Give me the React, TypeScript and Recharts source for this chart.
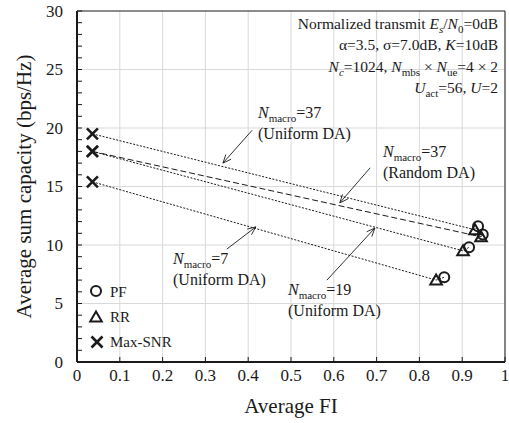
import React from 'react';
import {
  ScatterChart,
  Scatter,
  XAxis,
  YAxis,
  CartesianGrid,
  ReferenceLine,
} from 'recharts';

// average FI / average sum capacity per setup
// order: N=37 uniform DA, N=37 random DA, N=19 uniform DA, N=7 uniform DA
const setups = ['N37 Uniform', 'N37 Random', 'N19 Uniform', 'N7 Uniform'];
const maxSnrFI = [0.036, 0.036, 0.036, 0.036];
const maxSnrCap = [19.5, 18.0, 18.0, 15.4];
const rrFI = [0.93, 0.944, 0.902, 0.839];
const rrCap = [11.3, 10.7, 9.5, 7.0];
const pfFI = [0.937, 0.948, 0.916, 0.858];
const pfCap = [11.6, 10.9, 9.8, 7.25];
const setupDash = ['2 1.5', '6 3', '2 1.5', '2 1.5'];

const xTicks = [0, 0.1, 0.2, 0.3, 0.4, 0.5, 0.6, 0.7, 0.8, 0.9, 1];
const yTicks = Array.from({ length: 31 }, (_, i) => i);
const yGrid = [5, 10, 15, 20, 25];

const FONT = "'Liberation Serif', 'Times New Roman', serif";
const INK = '#1a1a1a';

const toPts = (xs: number[], ys: number[]) => xs.map((x, i) => ({ x, y: ys[i] }));
const pfData = toPts(pfFI, pfCap);
const rrData = toPts(rrFI, rrCap);
const maxSnrData = toPts(maxSnrFI, maxSnrCap);
const lineData = setups.map((_, i) => [
  { x: maxSnrFI[i], y: maxSnrCap[i] },
  { x: rrFI[i], y: rrCap[i] },
  { x: pfFI[i], y: pfCap[i] },
]);

// arrows of the annotations, in data units
const arrows = [
  [{ x: 0.409, y: 19.8 }, { x: 0.341, y: 17.0 }],
  [{ x: 0.685, y: 16.6 }, { x: 0.614, y: 13.6 }],
  [{ x: 0.35, y: 9.65 }, { x: 0.418, y: 11.55 }],
  [{ x: 0.584, y: 7.0 }, { x: 0.696, y: 11.45 }],
];

const Circle = ({ cx, cy }: any) => (
  <circle cx={cx} cy={cy} r={5} fill="none" stroke={INK} strokeWidth={2} />
);
const Triangle = ({ cx, cy }: any) => (
  <polygon
    points={`${cx},${cy - 5.5} ${cx + 5.8},${cy + 4.5} ${cx - 5.8},${cy + 4.5}`}
    fill="none"
    stroke={INK}
    strokeWidth={2}
  />
);
const Cross = ({ cx, cy }: any) => (
  <g stroke={INK} strokeWidth={2.6}>
    <line x1={cx - 5.5} y1={cy - 5.5} x2={cx + 5.5} y2={cy + 5.5} />
    <line x1={cx - 5.5} y1={cy + 5.5} x2={cx + 5.5} y2={cy - 5.5} />
  </g>
);
const NoDot = () => <g />;

const Arrow = (props: any) => {
  const { x1, y1, x2, y2 } = props;
  const a = Math.atan2(y2 - y1, x2 - x1);
  const L = 9;
  const w = 0.4;
  const p1 = `${x2 - L * Math.cos(a - w)},${y2 - L * Math.sin(a - w)}`;
  const p2 = `${x2 - L * Math.cos(a + w)},${y2 - L * Math.sin(a + w)}`;
  return (
    <g stroke={INK} strokeWidth={0.9} fill="none">
      <line x1={x1} y1={y1} x2={x2} y2={y2} />
      <polyline points={`${p1} ${x2},${y2} ${p2}`} />
    </g>
  );
};

const XTick = (props: any) => {
  const { x, y, payload } = props;
  return (
    <text x={x} y={y} textAnchor="middle" dy="0.35em" fontFamily={FONT} fontSize={17} fill={INK}>
      {String(payload.value)}
    </text>
  );
};

// only every 5th y tick gets a label, the rest are minor ticks
const YTick = (props: any) => {
  const { x, y, payload } = props;
  if (payload.value % 5 !== 0) return <g />;
  return (
    <text x={x} y={y} textAnchor="end" dy="0.35em" fontFamily={FONT} fontSize={17} fill={INK}>
      {String(payload.value)}
    </text>
  );
};

const Nmacro = ({ x, y, v, sub }: { x: number; y: number; v: string; sub: string }) => (
  <text x={x} y={y} fontSize={16} fill={INK} fontFamily={FONT}>
    <tspan fontStyle="italic">N</tspan>
    <tspan fontSize={11} dy={3.5}>{sub}</tspan>
    <tspan dy={-3.5}>{v}</tspan>
  </text>
);

const Plain = ({ x, y, size = 16, children }: any) => (
  <text x={x} y={y} fontSize={size} fill={INK} fontFamily={FONT}>
    {children}
  </text>
);

const Overlay = () => (
  <svg width={509} height={423} style={{ position: 'absolute', left: 0, top: 0, pointerEvents: 'none' }}>
    {/* parameters */}
    <g fontSize={15.5} fill={INK} textAnchor="end" fontFamily={FONT}>
      <text x={498} y={29}>
        Normalized transmit <tspan fontStyle="italic">E</tspan>
        <tspan fontSize={11} dy={4} fontStyle="italic">s</tspan>
        <tspan dy={-4}>/</tspan>
        <tspan fontStyle="italic">N</tspan>
        <tspan fontSize={11} dy={4}>0</tspan>
        <tspan dy={-4}>=0dB</tspan>
      </text>
      <text x={498} y={50}>
        α=3.5, σ=7.0dB, <tspan fontStyle="italic">K</tspan>=10dB
      </text>
      <text x={498} y={72}>
        <tspan fontStyle="italic">N</tspan>
        <tspan fontSize={11} dy={4} fontStyle="italic">c</tspan>
        <tspan dy={-4}>=1024, </tspan>
        <tspan fontStyle="italic">N</tspan>
        <tspan fontSize={11} dy={4}>mbs</tspan>
        <tspan dy={-4}> × </tspan>
        <tspan fontStyle="italic">N</tspan>
        <tspan fontSize={11} dy={4}>ue</tspan>
        <tspan dy={-4}>=4 × 2</tspan>
      </text>
      <text x={498} y={93}>
        <tspan fontStyle="italic">U</tspan>
        <tspan fontSize={11} dy={4}>act</tspan>
        <tspan dy={-4}>=56, </tspan>
        <tspan fontStyle="italic">U</tspan>
        <tspan>=2</tspan>
      </text>
    </g>

    {/* annotations */}
    <Nmacro x={258} y={118} sub="macro" v="=37" />
    <Plain x={258} y={139}>(Uniform DA)</Plain>
    <Nmacro x={383} y={157} sub="macro" v="=37" />
    <Plain x={383} y={178}>(Random DA)</Plain>
    <Nmacro x={173} y={264} sub="macro" v="=7" />
    <Plain x={173} y={285}>(Uniform DA)</Plain>
    <Nmacro x={288} y={295} sub="macro" v="=19" />
    <Plain x={288} y={316}>(Uniform DA)</Plain>

    {/* legend */}
    <Circle cx={96} cy={291} />
    <Plain x={110} y={297} size={15}>PF</Plain>
    <Triangle cx={96} cy={317} />
    <Plain x={110} y={322} size={15}>RR</Plain>
    <Cross cx={97} cy={342} />
    <Plain x={110} y={347} size={15}>Max-SNR</Plain>
  </svg>
);

export default function App() {
  return (
    <div
      style={{
        position: 'absolute',
        left: 0,
        top: 0,
        width: 509,
        height: 423,
        background: '#fff',
        fontFamily: FONT,
      }}
    >
      <ScatterChart width={509} height={423} margin={{ top: 11, right: 4, bottom: 0, left: 0 }}>
        <CartesianGrid vertical horizontal={false} stroke="#d9d9d9" strokeWidth={1} />
        {yGrid.map((v) => (
          <ReferenceLine key={v} y={v} stroke="#d9d9d9" strokeWidth={1} />
        ))}
        <XAxis
          type="number"
          dataKey="x"
          domain={[0, 1]}
          ticks={xTicks}
          height={61}
          tickSize={-5}
          tickMargin={18}
          tick={<XTick />}
          tickLine={{ stroke: INK, strokeWidth: 1 }}
          axisLine={{ stroke: INK, strokeWidth: 2 }}
          label={{
            value: 'Average FI',
            position: 'insideBottom',
            offset: 10,
            style: { fontFamily: FONT, fontSize: 21, fill: INK },
          }}
        />
        <YAxis
          type="number"
          dataKey="y"
          domain={[0, 30]}
          ticks={yTicks}
          interval={0}
          width={77}
          tickSize={-5}
          tickMargin={19}
          tick={<YTick />}
          tickLine={{ stroke: INK, strokeWidth: 1 }}
          axisLine={{ stroke: INK, strokeWidth: 2 }}
          label={{
            value: 'Average sum capacity (bps/Hz)',
            angle: -90,
            position: 'insideLeft',
            offset: 24,
            style: { fontFamily: FONT, fontSize: 21, fill: INK, textAnchor: 'middle' },
          }}
        />
        <ReferenceLine y={30} stroke={INK} strokeWidth={1} />
        <ReferenceLine x={1} stroke={INK} strokeWidth={1} />
        {arrows.map((seg, i) => (
          <ReferenceLine key={`a${i}`} segment={seg} shape={Arrow} />
        ))}
        {lineData.map((d, i) => (
          <Scatter
            key={setups[i]}
            name={setups[i]}
            data={d}
            shape={NoDot}
            line={{ stroke: INK, strokeWidth: 1, strokeDasharray: setupDash[i] }}
            lineType="joint"
            isAnimationActive={false}
          />
        ))}
        <Scatter name="PF" data={pfData} shape={Circle} isAnimationActive={false} />
        <Scatter name="RR" data={rrData} shape={Triangle} isAnimationActive={false} />
        <Scatter name="Max-SNR" data={maxSnrData} shape={Cross} isAnimationActive={false} />
      </ScatterChart>
      <Overlay />
    </div>
  );
}
